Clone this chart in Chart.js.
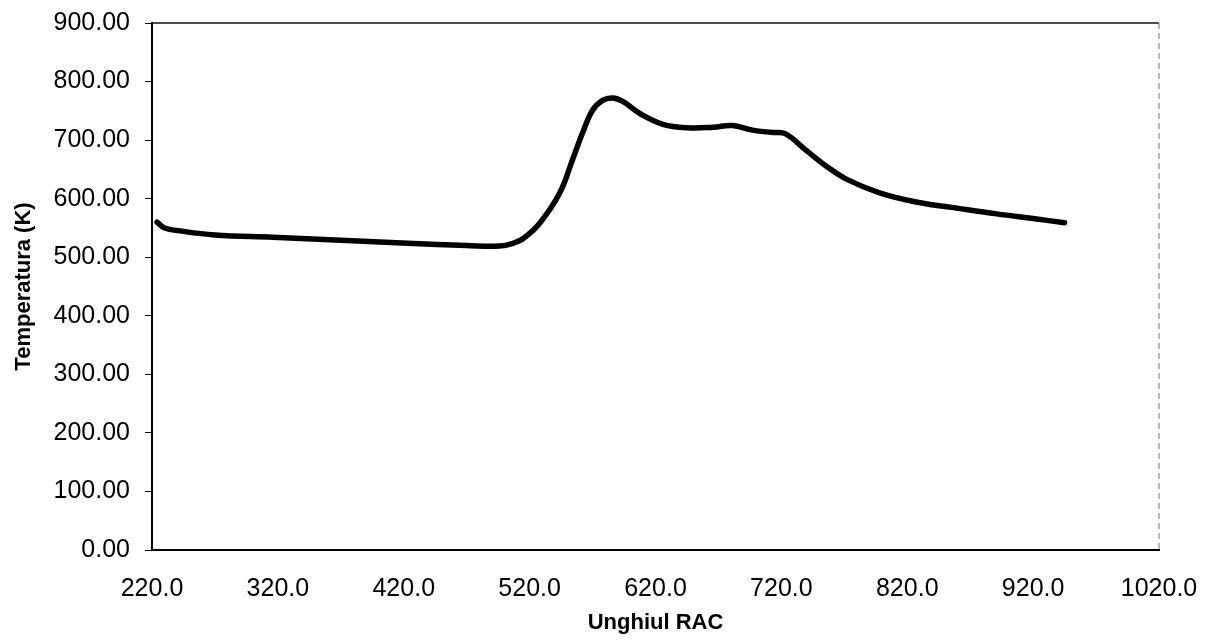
<!DOCTYPE html>
<html>
<head>
<meta charset="utf-8">
<script src="https://cdn.jsdelivr.net/npm/chart.js@4/dist/chart.umd.min.js"></script>
<style>
  html, body { margin: 0; padding: 0; background: #fff; overflow: hidden; }
  #wrap { width: 1206px; height: 644px; }
</style>
</head>
<body>
<div id="wrap"><canvas id="tempChart"></canvas></div>
<script>
// crank angle (RAC) and temperature (K)
const unghi = [224, 230, 242, 270, 316, 370, 423, 470, 496, 507, 515, 528, 544, 554, 562, 570, 578, 586, 594, 608, 626, 645, 666, 681, 697, 713, 723, 740, 756, 772, 798, 828, 862, 891, 920, 945];
const temperatura = [560, 550, 545, 538, 534, 529, 524, 520, 519, 524, 532, 558, 610, 666, 712, 751, 768, 772, 766, 745, 727, 721, 722, 725, 717, 713, 711, 682, 655, 633, 610, 594, 583, 574, 566, 559];

const FONT = "'Liberation Sans', Arial, sans-serif";

// thin frame on top and right side of the plot
const frame = {
  id: "frame",
  afterDraw(chart) {
    const { ctx, chartArea: a } = chart;
    ctx.save();
    ctx.strokeStyle = "#111";
    ctx.lineWidth = 1.5;
    ctx.beginPath();
    ctx.moveTo(a.left, a.top);
    ctx.lineTo(a.right, a.top);
    ctx.stroke();
    ctx.strokeStyle = "#777";
    ctx.lineWidth = 1;
    ctx.setLineDash([6, 4]);
    ctx.beginPath();
    ctx.moveTo(a.right, a.top);
    ctx.lineTo(a.right, a.bottom);
    ctx.stroke();
    ctx.restore();
  },
};

const ctx = document.getElementById("tempChart").getContext("2d");
const chart = new Chart(ctx, {
  type: "line",
  data: {
    datasets: [
      {
        label: "Temperatura",
        data: unghi.map((x, i) => ({ x: x, y: temperatura[i] })),
        borderColor: "#000",
        borderWidth: 5.5,
        borderCapStyle: "round",
        tension: 0.4,
        pointRadius: 0,
        fill: false,
      },
    ],
  },
  options: {
    responsive: true,
    maintainAspectRatio: false,
    animation: false,
    layout: { padding: { left: 11, top: 7, right: 47, bottom: 8 } },
    plugins: { legend: { display: false }, tooltip: { enabled: false } },
    scales: {
      x: {
        type: "linear",
        min: 220,
        max: 1020,
        afterFit: (scale) => { scale.height = 86; },
        ticks: {
          stepSize: 100,
          color: "#000",
          font: { family: FONT, size: 25 },
          padding: 2,
          maxRotation: 0,
          callback: (v) => v.toFixed(1),
        },
        grid: { drawOnChartArea: false, drawTicks: true, tickLength: 22, tickColor: "rgba(0,0,0,0)" },
        border: { color: "#000", width: 2 },
        title: {
          display: true,
          text: "Unghiul RAC",
          color: "#000",
          font: { family: FONT, size: 22, weight: "bold" },
          padding: { top: 0, bottom: 0 },
        },
      },
      y: {
        min: 0,
        max: 900,
        afterFit: (scale) => { scale.width = 141; },
        ticks: {
          stepSize: 100,
          color: "#000",
          font: { family: FONT, size: 25, lineHeight: 0.64 },
          padding: 15,
          callback: (v) => v.toFixed(2),
        },
        grid: { drawOnChartArea: false, drawTicks: true, tickLength: 7, color: "#000" },
        border: { color: "#000", width: 2 },
        title: {
          display: true,
          text: "Temperatura (K)",
          color: "#000",
          font: { family: FONT, size: 22, weight: "bold" },
          padding: { top: 0, bottom: 0 },
        },
      },
    },
  },
  plugins: [frame],
});
</script>
</body>
</html>
